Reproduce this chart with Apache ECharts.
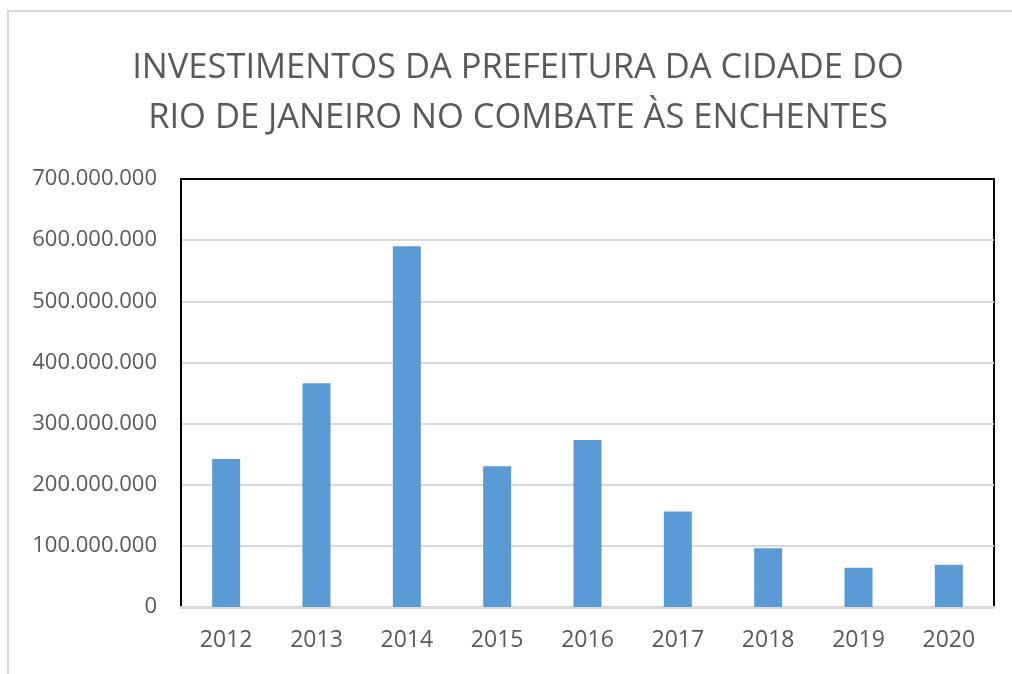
<!DOCTYPE html>
<html>
<head>
<meta charset="utf-8">
<script src="https://cdn.jsdelivr.net/npm/echarts@6/dist/echarts.min.js"></script>
<style>
  html, body { margin: 0; padding: 0; background: #fff; }
  #chart { width: 1012px; height: 674px; }
</style>
</head>
<body>
<div id="chart"></div>
<script>
// Investimentos por ano (R$)
const years = ['2012', '2013', '2014', '2015', '2016', '2017', '2018', '2019', '2020'];
const investimentos = [242000000, 366000000, 590000000, 230000000, 273000000, 156000000, 96000000, 64000000, 69000000];

const titleLines = ['INVESTIMENTOS DA PREFEITURA DA CIDADE DO', 'RIO DE JANEIRO NO COMBATE ÀS ENCHENTES'];
const fontFamily = '"Open Sans", sans-serif';

// 700000000 -> 700.000.000
function formatPt(v) {
  return String(v).replace(/\B(?=(\d{3})+(?!\d))/g, '.');
}

const chart = echarts.init(document.getElementById('chart'));

const option = {
  backgroundColor: '#fff',
  animation: false,
  title: {
    text: titleLines.join('\n'),
    left: 513,
    textAlign: 'center',
    top: 38,
    textStyle: {
      fontFamily: fontFamily,
      fontWeight: 'normal',
      fontSize: 34.5,
      lineHeight: 50,
      color: '#595959'
    }
  },
  graphic: [{
    type: 'rect',
    shape: { x: 8, y: 11, width: 1020, height: 680 },
    style: { fill: 'none', stroke: '#d9d9d9', lineWidth: 2 },
    silent: true
  }],
  grid: {
    left: 181,
    right: 18,
    top: 179,
    bottom: 67,
    show: true,
    borderColor: '#000',
    borderWidth: 2
  },
  xAxis: {
    type: 'category',
    data: years,
    axisLine: { show: true, lineStyle: { color: '#d9d9d9', width: 3 } },
    axisTick: { show: false },
    axisLabel: {
      margin: 22,
      fontFamily: fontFamily,
      fontSize: 23,
      color: '#595959'
    }
  },
  yAxis: {
    type: 'value',
    min: 0,
    max: 700000000,
    interval: 100000000,
    axisLine: { show: true, lineStyle: { color: '#000', width: 2 } },
    axisTick: { show: false },
    splitLine: { showMaxLine: false, showMinLine: false, lineStyle: { color: '#d9d9d9', width: 2 } },
    axisLabel: {
      margin: 24,
      fontFamily: fontFamily,
      fontSize: 22,
      color: '#595959',
      formatter: formatPt
    }
  },
  series: [{
    type: 'bar',
    data: investimentos,
    barWidth: '31%',
    itemStyle: { color: '#5b9bd5' }
  }]
};

chart.setOption(option);
</script>
</body>
</html>
